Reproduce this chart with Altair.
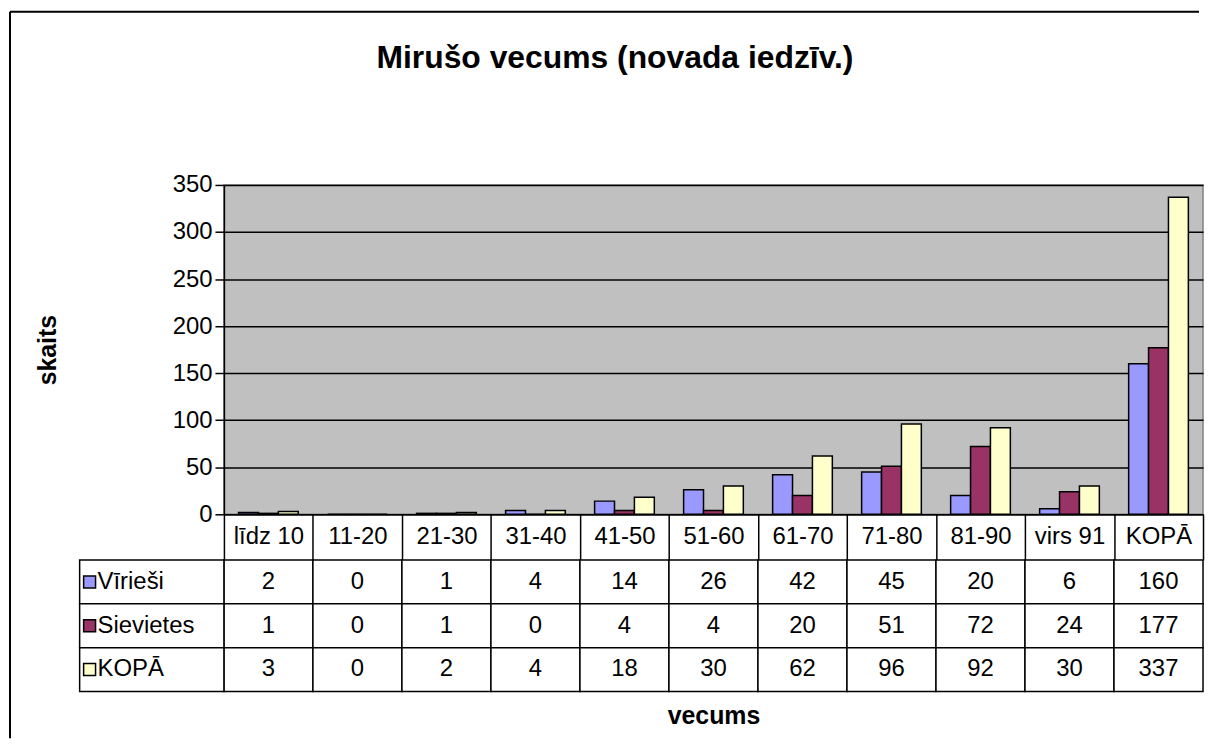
import altair as alt
import pandas as pd

categories = ["līdz 10", "11-20", "21-30", "31-40", "41-50", "51-60",
              "61-70", "71-80", "81-90", "virs 91", "KOPĀ"]
series = ["Vīrieši", "Sievietes", "KOPĀ"]
viriesi = [2, 0, 1, 4, 14, 26, 42, 45, 20, 6, 160]
sievietes = [1, 0, 1, 0, 4, 4, 20, 51, 72, 24, 177]
kopa = [3, 0, 2, 4, 18, 30, 62, 96, 92, 30, 337]
colors = ["#9999FF", "#993366", "#FFFFCC"]
y_ticks = [0, 50, 100, 150, 200, 250, 300, 350]
title_text = "Mirušo vecums (novada iedzīv.)"

FONT = "Liberation Sans, Arial, sans-serif"
FS = 24

rows = []
for s, vals in zip(series, [viriesi, sievietes, kopa]):
    for c, v in zip(categories, vals):
        rows.append({"cat": c, "series": s, "value": v})
df = pd.DataFrame(rows)
df_series = pd.DataFrame({"series": series})
one = pd.DataFrame({"t": [title_text]})

xscale = alt.Scale(domain=categories, paddingInner=0, paddingOuter=0)
cscale = alt.Scale(domain=series, range=colors)

bars = alt.Chart(df).mark_bar(stroke="black", strokeWidth=1.5).encode(
    x=alt.X("cat:N", sort=categories, scale=xscale,
            axis=alt.Axis(title=None, labelFontSize=FS, labelColor="black", labelFont=FONT,
                          labelAngle=0, tickBand="extent", tickSize=46, tickColor="black",
                          tickWidth=1.5, labelPadding=-24, labelBaseline="middle",
                          domainColor="black", domainWidth=1.5, grid=False)),
    xOffset=alt.XOffset("series:N", sort=series,
                        scale=alt.Scale(domain=series, paddingInner=0, paddingOuter=0.736)),
    y=alt.Y("value:Q", scale=alt.Scale(domain=[0, 350], nice=False),
            axis=alt.Axis(title="skaits", titleFontSize=25, titleFontWeight="bold",
                          titleColor="black", titleFont=FONT, titlePadding=112,
                          labelFontSize=FS, labelColor="black", labelFont=FONT,
                          tickSize=9, tickColor="black", tickWidth=1.5, labelPadding=3,
                          values=y_ticks, grid=True, gridColor="black", gridWidth=1.5,
                          domainColor="black", domainWidth=1.5)),
    color=alt.Color("series:N", scale=cscale, legend=None),
)

title = alt.Chart(one).mark_text(fontSize=32, fontWeight="bold", font=FONT,
                                 color="black", baseline="middle", align="center").encode(
    x=alt.value(393), y=alt.value(-128), text="t:N")

frame_left = alt.Chart(one).mark_rule(color="black", strokeWidth=2).encode(
    x=alt.value(-215), y=alt.value(-174), y2=alt.value(556))
frame_top = alt.Chart(one).mark_rule(color="black", strokeWidth=2).encode(
    x=alt.value(-215), x2=alt.value(980), y=alt.value(-174))

top = alt.layer(bars, title, frame_left, frame_top).properties(
    width=984, height=331,
    view=alt.ViewBackground(fill="#C0C0C0", stroke="#808080", strokeWidth=1.5))

yscale = alt.Scale(domain=series, paddingInner=0, paddingOuter=0)
xenc = alt.X("cat:N", sort=categories, scale=xscale,
             axis=alt.Axis(labels=False, ticks=False, domain=False, title="vecums",
                           titleFontSize=25, titleFontWeight="bold", titleColor="black",
                           titleFont=FONT, titlePadding=12))
yenc = alt.Y("series:N", sort=series, scale=yscale, axis=None)

cells = alt.Chart(df).mark_rect(fill="white", stroke="black", strokeWidth=1.5).encode(
    x=xenc, y=yenc)
vals = alt.Chart(df).mark_text(fontSize=FS, font=FONT, color="black").encode(
    x=xenc, y=yenc, text="value:Q")
lab_cells = alt.Chart(df_series).mark_rect(fill="white", stroke="black", strokeWidth=1.5).encode(
    x=alt.value(-145), x2=alt.value(0), y=yenc)
squares = alt.Chart(df_series).mark_square(size=144, stroke="black", strokeWidth=1.5,
                                           opacity=1, filled=True).encode(
    x=alt.value(-135), y=yenc, color=alt.Color("series:N", scale=cscale, legend=None))
lab_text = alt.Chart(df_series).mark_text(fontSize=FS, font=FONT, color="black",
                                          align="left", baseline="middle").encode(
    x=alt.value(-127), y=yenc, text="series:N")

bottom = alt.layer(cells, vals, lab_cells, squares, lab_text).properties(
    width=984, height=132,
    view=alt.ViewBackground(fill="white", stroke="transparent"))

chart = alt.vconcat(top, bottom, spacing=46, bounds="flush").properties(
    padding=0, background="white"
).configure(font=FONT)

chart.save("out.html", embed_options={"renderer": "svg", "actions": False})
